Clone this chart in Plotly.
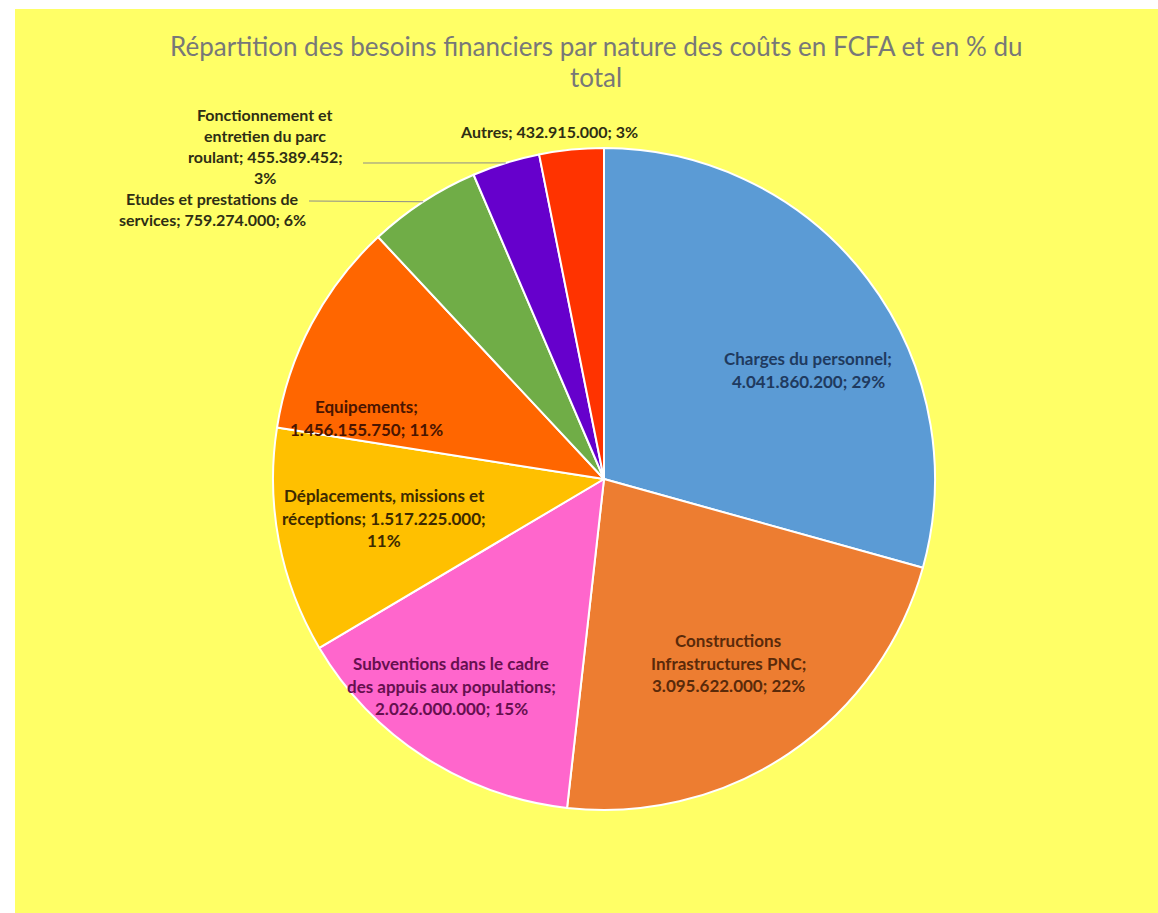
import math
import textwrap
import plotly.graph_objects as go

# ---- data ----
categories = [
    "Charges du personnel",
    "Constructions Infrastructures PNC",
    "Subventions dans le cadre des appuis aux populations",
    "Déplacements, missions et réceptions",
    "Equipements",
    "Etudes et prestations de services",
    "Fonctionnement et entretien du parc roulant",
    "Autres",
]
values = [4041860200, 3095622000, 2026000000, 1517225000, 1456155750, 759274000, 455389452, 432915000]
colors = ["#5B9BD5", "#ED7D31", "#FF66CC", "#FFC000", "#FF6600", "#70AD47", "#6600CC", "#FF3300"]
text_colors = ["#1F3A5F", "#5A2A0A", "#66104F", "#3D2A00", "#4A1500", "#2E2E14", "#2E2E14", "#2E2E14"]
title_text = "Répartition des besoins financiers par nature des coûts en FCFA et en % du total"

# ---- layout helpers ----
W, H = 1158, 913
def px(x):
    return x / W
def py(y):
    return 1 - y / H

# pie geometry in pixels
cx, cy, R = 604, 479, 331

# label placement (pixel centers), wrap widths, line spacing, font size
label_pos = [(808, 370), (728, 663), (451, 686), (384, 518), (366, 418), (213, 209), (265, 146), (549, 131)]
wrap_w = [22, 20, 27, 26, 18, 25, 21, 30]
line_gap = [22.5, 22.5, 22.5, 22.5, 22.5, 21, 21, 22]
font_sz = [17, 17, 17, 17, 17, 16, 16, 16]
leader_start = {5: (309, 201), 6: (363, 163)}

total = sum(values)

fig = go.Figure(go.Pie(
    labels=categories,
    values=values,
    sort=False,
    direction="clockwise",
    rotation=0,
    marker=dict(colors=colors, line=dict(color="white", width=2)),
    textinfo="none",
    hoverinfo="label+value+percent",
    showlegend=False,
    domain=dict(x=[px(cx - R), px(cx + R)], y=[py(cy + R), py(cy - R)]),
))

annotations = []
# title
title_lines = textwrap.wrap(title_text, width=74)
for i, line in enumerate(title_lines):
    annotations.append(dict(
        x=px(596), y=py(46 + i * 31), xref="paper", yref="paper",
        text=line, showarrow=False, xanchor="center", yanchor="middle",
        font=dict(family="Lato", size=26, color="#787878"),
    ))

shapes = [dict(type="rect", xref="paper", yref="paper",
               x0=px(15), x1=1, y0=0, y1=py(9),
               fillcolor="#FFFF66", line=dict(width=0), layer="below")]

cum = 0
for i, (cat, v) in enumerate(zip(categories, values)):
    pct = round(v / total * 100)
    vtxt = f"{v:,}".replace(",", ".")
    full = f"{cat}; {vtxt}; {pct}%"
    lines = textwrap.wrap(full, width=wrap_w[i])
    lx, ly = label_pos[i]
    n = len(lines)
    for j, line in enumerate(lines):
        annotations.append(dict(
            x=px(lx), y=py(ly + (j - (n - 1) / 2) * line_gap[i]), xref="paper", yref="paper",
            text=f"<b>{line}</b>", showarrow=False, xanchor="center", yanchor="middle",
            font=dict(family="Lato", size=font_sz[i], color=text_colors[i]),
        ))
    mid = (cum + v / 2) / total
    cum += v
    if i in leader_start:
        ang = 2 * math.pi * mid
        ex = cx + R * math.sin(ang)
        ey = cy - R * math.cos(ang)
        sx, sy = leader_start[i]
        shapes.append(dict(type="line", xref="paper", yref="paper",
                           x0=px(sx), y0=py(sy), x1=px(ex), y1=py(ey),
                           line=dict(color="#8c8c8c", width=1)))

fig.update_layout(
    width=W, height=H,
    margin=dict(l=0, r=0, t=0, b=0),
    paper_bgcolor="white",
    plot_bgcolor="white",
    annotations=annotations,
    shapes=shapes,
)

fig.write_html("out.html",
               config={"displayModeBar": False},
               post_script="document.body.style.margin='0';document.body.style.overflow='hidden';")
